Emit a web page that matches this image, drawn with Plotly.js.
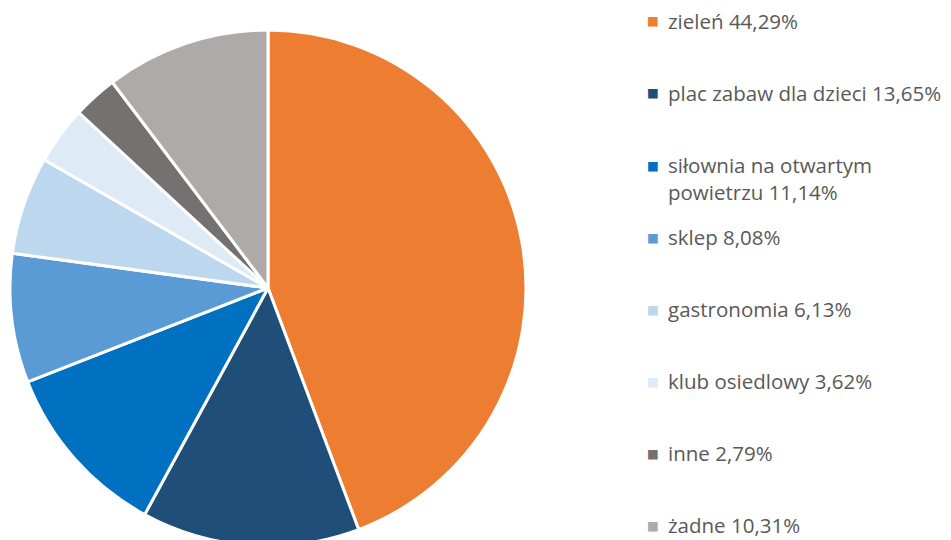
<!DOCTYPE html>
<html>
<head>
<meta charset="utf-8">
<script src="https://cdn.plot.ly/plotly-3.0.1.min.js"></script>
<style>html,body{margin:0;padding:0;overflow:hidden;background:#fff}</style>
</head>
<body>
<div id="chart" style="width:951px;height:560px"></div>
<script>
var categories = ["zieleń", "plac zabaw dla dzieci", "siłownia na otwartym powietrzu", "sklep", "gastronomia", "klub osiedlowy", "inne", "żadne"];
var legendLabels = ["zieleń 44,29%", "plac zabaw dla dzieci 13,65%", "siłownia na otwartym<br>powietrzu 11,14%", "sklep 8,08%", "gastronomia 6,13%", "klub osiedlowy 3,62%", "inne 2,79%", "żadne 10,31%"];
var values = [44.29, 13.65, 11.14, 8.08, 6.13, 3.62, 2.79, 10.31];
var colors = ["#ED7D31", "#1F4E79", "#0070C0", "#5B9BD5", "#BDD7EE", "#DEEBF7", "#767171", "#AEAAAA"];

var W = 951, H = 560;
var cx = 268, cy = 288, r = 258;

var trace = {
  type: "pie",
  labels: categories,
  values: values,
  sort: false,
  direction: "clockwise",
  rotation: 0,
  textinfo: "none",
  hoverinfo: "label+percent",
  marker: { colors: colors, line: { color: "#ffffff", width: 3 } },
  domain: { x: [(cx - r) / W, (cx + r) / W], y: [1 - (cy + r) / H, 1 - (cy - r) / H] },
  showlegend: false
};

var annotations = [];
var y0 = 21, step = 72;
for (var i = 0; i < categories.length; i++) {
  var ypx = y0 + i * step;
  annotations.push({
    xref: "paper", yref: "paper",
    x: 645 / W, y: 1 - ypx / H,
    xanchor: "left", yanchor: "middle",
    showarrow: false,
    text: "<span style='color:" + colors[i] + "'>■</span>",
    font: { family: "DejaVu Sans", size: 12.5 }
  });
  annotations.push({
    xref: "paper", yref: "paper",
    x: 666 / W, y: 1 - (ypx - 16) / H,
    xanchor: "left", yanchor: "top",
    align: "left",
    showarrow: false,
    text: legendLabels[i],
    font: { family: "Open Sans", size: 20.5, color: "#595959" }
  });
}

var layout = {
  width: W, height: H,
  margin: { l: 0, r: 0, t: 0, b: 0, pad: 0 },
  paper_bgcolor: "#ffffff",
  plot_bgcolor: "#ffffff",
  showlegend: false,
  annotations: annotations
};

Plotly.newPlot("chart", [trace], layout, { displayModeBar: false, staticPlot: true });
</script>
</body>
</html>
